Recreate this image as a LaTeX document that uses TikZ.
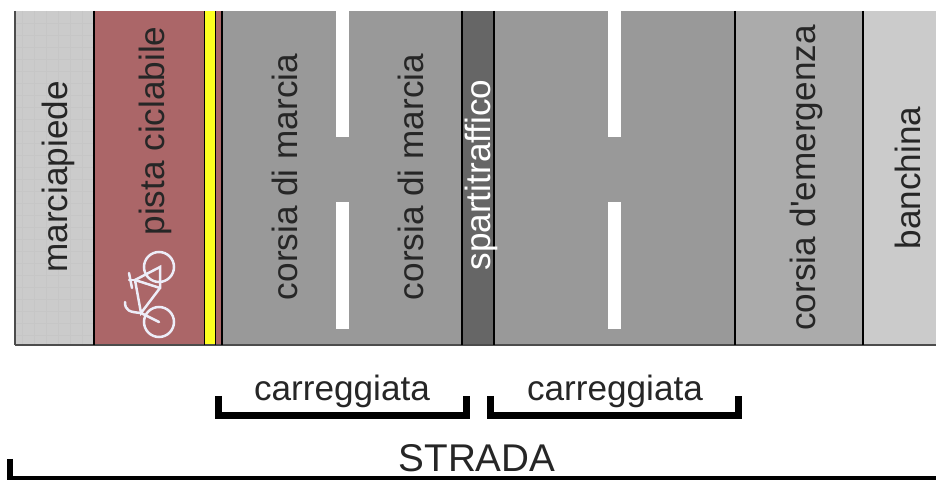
\documentclass[tikz,border=0pt]{standalone}
\usepackage{fontspec}
\setmainfont{Liberation Sans}
\usetikzlibrary{patterns}

\definecolor{pathgray}{HTML}{CBCBCB}
\definecolor{gridgray}{HTML}{C6C6C6}
\definecolor{cyclered}{HTML}{AB6668}
\definecolor{lineyellow}{HTML}{FFFF20}
\definecolor{lanegray}{HTML}{999999}
\definecolor{medgray}{HTML}{666666}
\definecolor{hardgray}{HTML}{ABABAB}
\definecolor{bikewhite}{HTML}{EDEDF8}

\tikzset{
    strip/.style={draw=black, line width=0.5mm},
    lane/.style={rotate=90, font=\fontsize{20}{20}\selectfont, text=black!85},
    caption/.style={font=\fontsize{20}{20}\selectfont, text=black!85},
    bracket/.style={line width=1.3mm, line cap=butt, miter limit=10},
    bike/.style={draw=bikewhite, line width=0.5mm, line cap=round},
}

\begin{document}
\begin{tikzpicture}[
        x=0.2mm, y=-0.2mm,
    ]
    \useasboundingbox (0, 0) rectangle (936, 480);

    % the strips across the road
    \fill[pathgray] (15, 11) rectangle (94, 345);
    \foreach \x in {22, 34, ..., 94}
        \draw[gridgray, line width=0.1mm] (\x, 11) -- (\x, 345);
    \foreach \y in {23, 35, ..., 345}
        \draw[gridgray, line width=0.1mm] (15, \y) -- (94, \y);
    \fill[cyclered] (94, 11) rectangle (222, 345);
    \fill[lineyellow] (204, 11) rectangle (215, 345);
    \fill[lanegray] (222, 11) rectangle (462, 345);
    \fill[medgray] (462, 11) rectangle (494, 345);
    \fill[lanegray] (494, 11) rectangle (735, 345);
    \fill[hardgray] (735, 11) rectangle (863, 345);
    \fill[pathgray] (863, 11) rectangle (936, 345);

    \draw[black!70, line width=0.3mm] (15, 11) -- (15, 345);
    \draw[black!70, line width=0.3mm] (15, 345) -- (936, 345);
    \foreach \x in {94, 222, 462, 494, 735, 863}
        \draw[strip] (\x, 11) -- (\x, 345);
    \draw[line width=0.15mm] (204, 11) -- (204, 345);
    \draw[line width=0.15mm] (215, 11) -- (215, 345);

    % lane markings
    \foreach \x in {336, 608} {
        \fill[white] (\x, 11) rectangle (\x+13, 137);
        \fill[white] (\x, 202) rectangle (\x+13, 329);
    }

    \node[lane] (marciapiede) at (58, 177) {marciapiede};
    \node[lane] (pista) at (155, 131) {pista ciclabile};
    \node[lane] (corsiaA) at (285, 177) {corsia di marcia};
    \node[lane] (corsiaB) at (411, 177) {corsia di marcia};
    \node[lane, text=white] (spartitraffico) at (481, 175) {spartitraffico};
    \node[lane] (emergenza) at (806, 178) {corsia d\textquotesingle emergenza};
    \node[lane] (banchina) at (908, 178) {banchina};

    % bicycle
    \draw[bike] (159, 267) circle (15);
    \draw[bike] (159, 322) circle (15);
    \draw[bike] (160, 267) -- (135, 280) -- (141, 313) -- (160, 288) -- cycle;
    \draw[bike] (135, 280) -- (160, 288);
    \draw[bike] (129, 273) -- (132, 288);
    \draw[bike] (129, 280) -- (135, 280);
    \draw[bike] (125, 302) .. controls (125, 311) and (130, 312) .. (141, 313);
    \draw[bike] (141, 313) -- (159, 322);

    % brackets
    \draw[bracket] (218.5, 396) -- (218.5, 415.5) -- (466.5, 415.5) -- (466.5, 396);
    \draw[bracket] (490.5, 396) -- (490.5, 415.5) -- (738.5, 415.5) -- (738.5, 396);
    \draw[bracket] (10, 459) -- (10, 479.5) -- (936, 479.5);

    \node[caption] (carreggiataA) at (342, 391) {carreggiata};
    \node[caption] (carreggiataB) at (615, 391) {carreggiata};
    \node[caption, font=\fontsize{22}{22}\selectfont] (strada) at (477, 458) {STRADA};
\end{tikzpicture}
\end{document}
